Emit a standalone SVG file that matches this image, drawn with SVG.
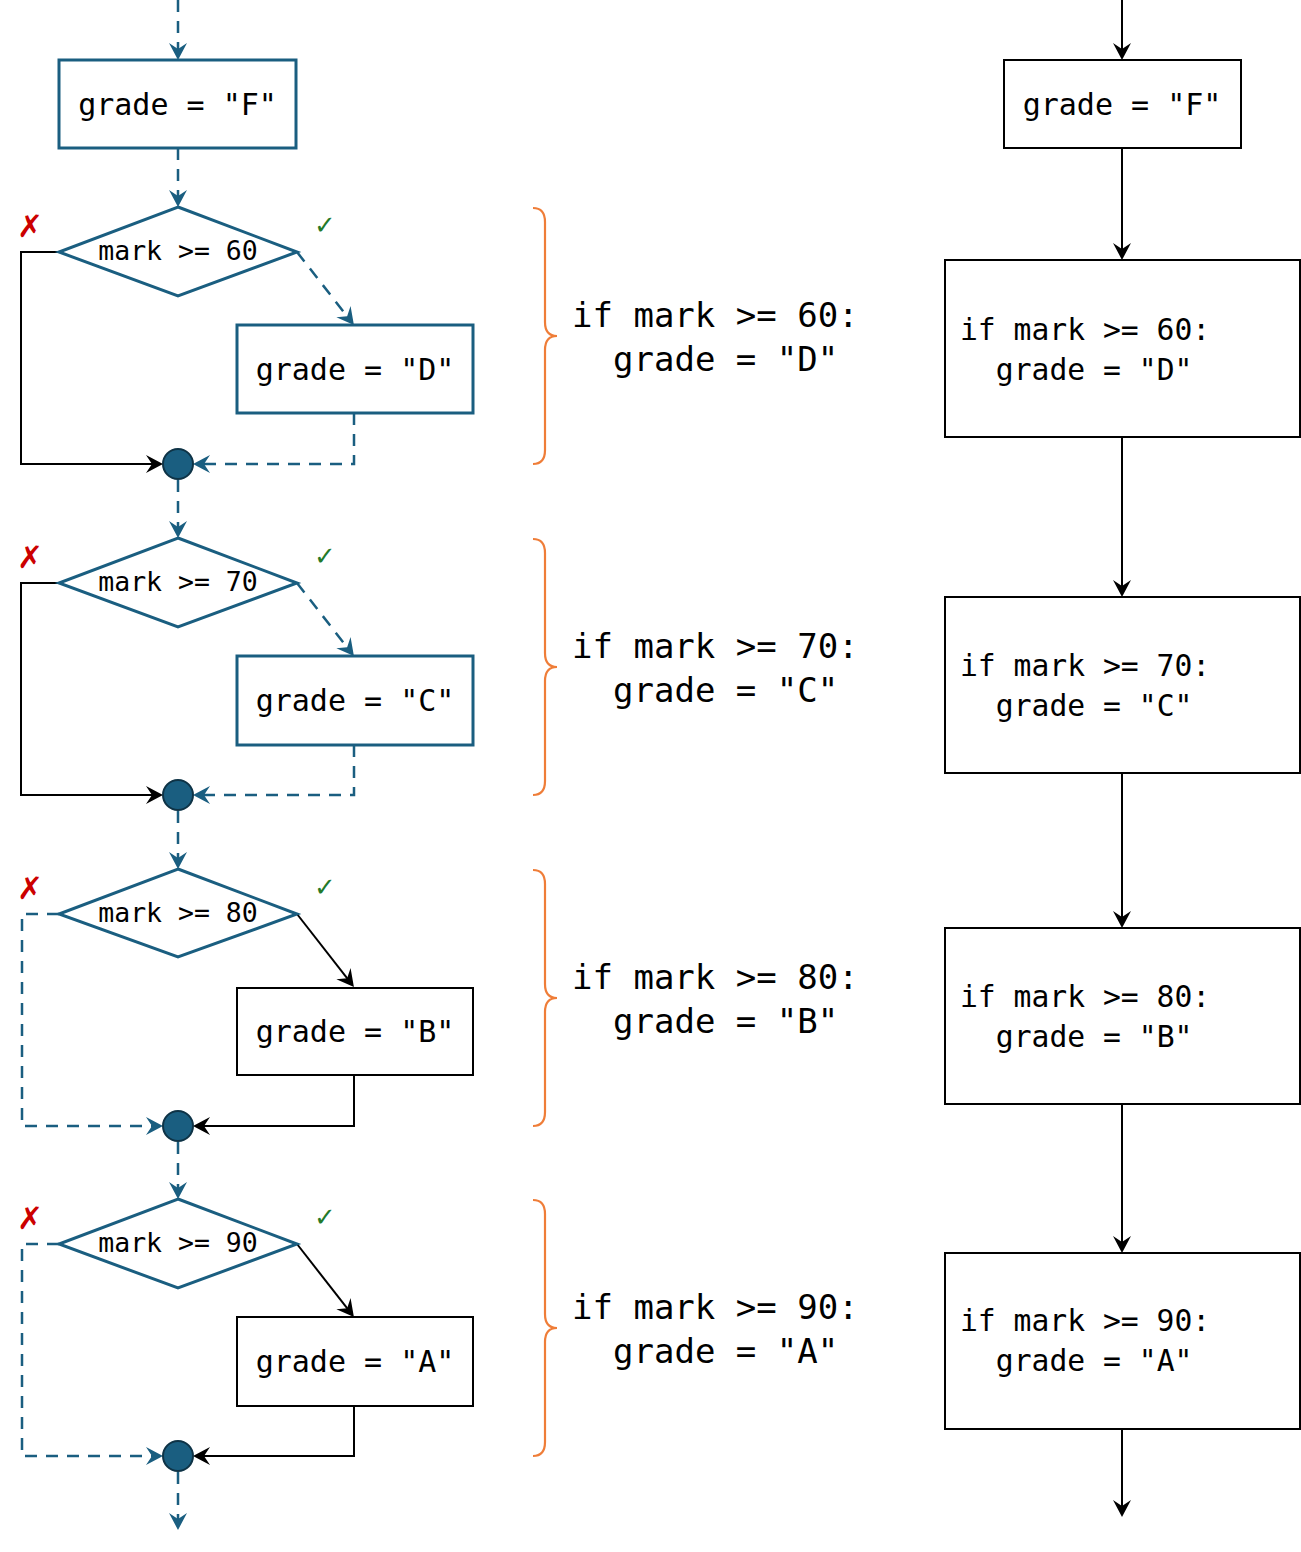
<svg xmlns="http://www.w3.org/2000/svg" width="1301" height="1552" viewBox="0 0 1301 1552">
<style>
.bg{fill:#ffffff}
.hbox{fill:#ffffff;stroke:#1A5E80;stroke-width:3}
.pbox{fill:#ffffff;stroke:#000000;stroke-width:2}
.dia{fill:#ffffff;stroke:#1A5E80;stroke-width:3}
.dot{fill:#1A5E80;stroke:#0E3346;stroke-width:2}
.bd{fill:none;stroke:#1A5E80;stroke-width:2.5;stroke-dasharray:12 9}
.bk{fill:none;stroke:#000000;stroke-width:2}
.brace{fill:none;stroke:#EF7D38;stroke-width:2.2}
.code{font-family:"DejaVu Sans Mono","Liberation Mono",monospace;fill:#000000}
.dtx{font-size:26.5px}
.btx{font-size:30px}
.mtx{font-size:34px}
.rtx{font-size:29.7px}
.no{font-family:"DejaVu Sans",sans-serif;font-size:31px;fill:#CC0000}
.yes{font-family:"DejaVu Sans",sans-serif;font-size:26px;fill:#237A2A}
</style>
<defs>
<marker id="ab" markerUnits="userSpaceOnUse" viewBox="-10 -10 20 20" refX="0" refY="0" markerWidth="20" markerHeight="20" orient="auto">
<path d="M8,0 L-9,-9 L-3,0 L-9,9 Z" fill="#1A5E80"/>
</marker>
<marker id="ak" markerUnits="userSpaceOnUse" viewBox="-10 -10 20 20" refX="0" refY="0" markerWidth="20" markerHeight="20" orient="auto">
<path d="M8,0 L-9,-9 L-3,0 L-9,9 Z" fill="#000000"/>
</marker>
</defs>
<rect class="bg" x="0" y="0" width="1301" height="1552"/>

<g id="connectors">
<!-- left column -->
<path class="bd" d="M178,0 L178,52" marker-end="url(#ab)"/>
<path class="bd" d="M178,148 L178,199" marker-end="url(#ab)"/>
<!-- section 1 -->
<path class="bd" d="M297,252 L349,318.7" marker-end="url(#ab)"/>
<path class="bd" d="M354,413 L354,464 L201,464" marker-end="url(#ab)"/>
<path class="bk" d="M59,252 L21,252 L21,464 L155,464" marker-end="url(#ak)"/>
<path class="bd" d="M178,480 L178,530" marker-end="url(#ab)"/>
<!-- section 2 -->
<path class="bd" d="M297,583 L349,649.7" marker-end="url(#ab)"/>
<path class="bd" d="M354,745 L354,795 L201,795" marker-end="url(#ab)"/>
<path class="bk" d="M59,583 L21,583 L21,795 L155,795" marker-end="url(#ak)"/>
<path class="bd" d="M178,811 L178,861" marker-end="url(#ab)"/>
<!-- section 3 -->
<path class="bk" d="M297,914 L349,980.7" marker-end="url(#ak)"/>
<path class="bk" d="M354,1075 L354,1126 L201,1126" marker-end="url(#ak)"/>
<path class="bd" d="M59,914 L22,914 L22,1126 L155,1126" marker-end="url(#ab)"/>
<path class="bd" d="M178,1142 L178,1191" marker-end="url(#ab)"/>
<!-- section 4 -->
<path class="bk" d="M297,1244 L349,1310.7" marker-end="url(#ak)"/>
<path class="bk" d="M354,1406 L354,1456 L201,1456" marker-end="url(#ak)"/>
<path class="bd" d="M59,1244 L22,1244 L22,1456 L155,1456" marker-end="url(#ab)"/>
<path class="bd" d="M178,1472 L178,1522" marker-end="url(#ab)"/>
<!-- right column -->
<path class="bk" d="M1122,0 L1122,52" marker-end="url(#ak)"/>
<path class="bk" d="M1122,148 L1122,252" marker-end="url(#ak)"/>
<path class="bk" d="M1122,437 L1122,589" marker-end="url(#ak)"/>
<path class="bk" d="M1122,773 L1122,920" marker-end="url(#ak)"/>
<path class="bk" d="M1122,1104 L1122,1245" marker-end="url(#ak)"/>
<path class="bk" d="M1122,1429 L1122,1509" marker-end="url(#ak)"/>
</g>

<!-- left column nodes -->
<g id="left-start">
<rect class="hbox" x="59" y="60" width="237" height="88"/>
<text class="code btx" x="177.5" y="115" text-anchor="middle">grade = "F"</text>
</g>

<g id="cond60">
<polygon class="dia" points="178,207 297,252 178,296 59,252"/>
<text class="code dtx" x="178" y="260" text-anchor="middle">mark &gt;= 60</text>
<text class="no" x="30" y="237" text-anchor="middle">✗</text>
<text class="yes" x="325" y="234" text-anchor="middle">✓</text>
</g>
<g id="setD">
<rect class="hbox" x="237" y="325" width="236" height="88"/>
<text class="code btx" x="355" y="380" text-anchor="middle">grade = "D"</text>
</g>
<g id="join1"><circle class="dot" cx="178" cy="464" r="15"/></g>

<g id="cond70">
<polygon class="dia" points="178,538 297,583 178,627 59,583"/>
<text class="code dtx" x="178" y="591" text-anchor="middle">mark &gt;= 70</text>
<text class="no" x="30" y="568" text-anchor="middle">✗</text>
<text class="yes" x="325" y="565" text-anchor="middle">✓</text>
</g>
<g id="setC">
<rect class="hbox" x="237" y="656" width="236" height="89"/>
<text class="code btx" x="355" y="711" text-anchor="middle">grade = "C"</text>
</g>
<g id="join2"><circle class="dot" cx="178" cy="795" r="15"/></g>

<g id="cond80">
<polygon class="dia" points="178,869 297,914 178,957 59,914"/>
<text class="code dtx" x="178" y="922" text-anchor="middle">mark &gt;= 80</text>
<text class="no" x="30" y="899" text-anchor="middle">✗</text>
<text class="yes" x="325" y="896" text-anchor="middle">✓</text>
</g>
<g id="setB">
<rect class="pbox" x="237" y="988" width="236" height="87"/>
<text class="code btx" x="355" y="1042" text-anchor="middle">grade = "B"</text>
</g>
<g id="join3"><circle class="dot" cx="178" cy="1126" r="15"/></g>

<g id="cond90">
<polygon class="dia" points="178,1199 297,1244 178,1288 59,1244"/>
<text class="code dtx" x="178" y="1252" text-anchor="middle">mark &gt;= 90</text>
<text class="no" x="30" y="1229" text-anchor="middle">✗</text>
<text class="yes" x="325" y="1226" text-anchor="middle">✓</text>
</g>
<g id="setA">
<rect class="pbox" x="237" y="1317" width="236" height="89"/>
<text class="code btx" x="355" y="1372" text-anchor="middle">grade = "A"</text>
</g>
<g id="join4"><circle class="dot" cx="178" cy="1456" r="15"/></g>

<!-- braces and code -->
<g id="code60">
<path class="brace" d="M533,208 Q545,208 545,222 L545,322 Q545,336 557,336 Q545,336 545,350 L545,450 Q545,464 533,464"/>
<text class="code mtx" x="572" y="327">if mark &gt;= 60:</text>
<text class="code mtx" x="613" y="371">grade = "D"</text>
</g>
<g id="code70">
<path class="brace" d="M533,539 Q545,539 545,553 L545,653 Q545,667 557,667 Q545,667 545,681 L545,781 Q545,795 533,795"/>
<text class="code mtx" x="572" y="658">if mark &gt;= 70:</text>
<text class="code mtx" x="613" y="702">grade = "C"</text>
</g>
<g id="code80">
<path class="brace" d="M533,870 Q545,870 545,884 L545,984 Q545,998 557,998 Q545,998 545,1012 L545,1112 Q545,1126 533,1126"/>
<text class="code mtx" x="572" y="989">if mark &gt;= 80:</text>
<text class="code mtx" x="613" y="1033">grade = "B"</text>
</g>
<g id="code90">
<path class="brace" d="M533,1200 Q545,1200 545,1214 L545,1314 Q545,1328 557,1328 Q545,1328 545,1342 L545,1442 Q545,1456 533,1456"/>
<text class="code mtx" x="572" y="1319">if mark &gt;= 90:</text>
<text class="code mtx" x="613" y="1363">grade = "A"</text>
</g>

<!-- right column -->
<g id="r-start">
<rect class="pbox" x="1004" y="60" width="237" height="88"/>
<text class="code btx" x="1122" y="115" text-anchor="middle">grade = "F"</text>
</g>
<g id="r-if60">
<rect class="pbox" x="945" y="260" width="355" height="177"/>
<text class="code rtx" x="960" y="340">if mark &gt;= 60:</text>
<text class="code rtx" x="995.8" y="380">grade = "D"</text>
</g>
<g id="r-if70">
<rect class="pbox" x="945" y="597" width="355" height="176"/>
<text class="code rtx" x="960" y="676">if mark &gt;= 70:</text>
<text class="code rtx" x="995.8" y="716">grade = "C"</text>
</g>
<g id="r-if80">
<rect class="pbox" x="945" y="928" width="355" height="176"/>
<text class="code rtx" x="960" y="1007">if mark &gt;= 80:</text>
<text class="code rtx" x="995.8" y="1047">grade = "B"</text>
</g>
<g id="r-if90">
<rect class="pbox" x="945" y="1253" width="355" height="176"/>
<text class="code rtx" x="960" y="1331">if mark &gt;= 90:</text>
<text class="code rtx" x="995.8" y="1371">grade = "A"</text>
</g>
</svg>
